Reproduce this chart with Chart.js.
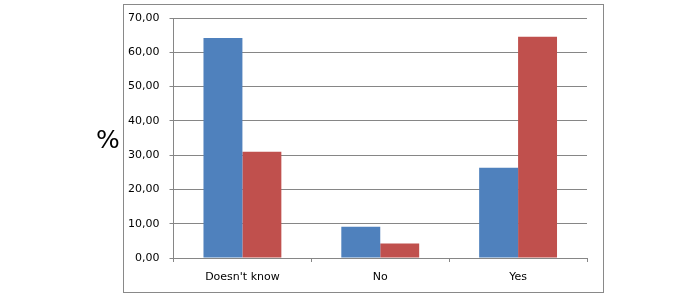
<!DOCTYPE html>
<html>
<head>
<meta charset="utf-8">
<script src="https://cdn.jsdelivr.net/npm/chart.js@4"></script>
<style>
  html, body { margin: 0; padding: 0; background: #fff; }
  #wrap { width: 700px; height: 298px; position: relative; }
</style>
</head>
<body>
<div id="wrap"><canvas id="chart" width="700" height="298"></canvas></div>
<script>
const categories = ["Doesn't know", 'No', 'Yes'];
const seriesA = [64.2, 9.1, 26.3];
const seriesB = [31.0, 4.2, 64.5];
const yTicks = [0, 10, 20, 30, 40, 50, 60, 70];

const axisColor = '#868686';
const font = { family: 'DejaVu Sans', size: 11 };

// frame around the chart + the "%" label outside the axis
const framePlugin = {
  id: 'frame',
  afterDraw(chart) {
    const ctx = chart.ctx;
    ctx.save();
    ctx.strokeStyle = '#898989';
    ctx.lineWidth = 1;
    ctx.strokeRect(123.5, 4.5, 480, 288);
    ctx.fillStyle = '#000';
    ctx.font = '25px "DejaVu Sans"';
    ctx.textAlign = 'center';
    ctx.textBaseline = 'middle';
    ctx.fillText('%', 108, 141);
    ctx.restore();
  }
};

new Chart(document.getElementById('chart').getContext('2d'), {
  type: 'bar',
  data: {
    labels: categories,
    datasets: [
      { label: 'A', data: seriesA, backgroundColor: '#4F81BD' },
      { label: 'B', data: seriesB, backgroundColor: '#C0504D' }
    ]
  },
  options: {
    responsive: false,
    animation: false,
    layout: { padding: { left: 0, right: 113, top: 18, bottom: 0 } },
    datasets: { bar: { categoryPercentage: 0.565, barPercentage: 1 } },
    plugins: { legend: { display: false }, tooltip: { enabled: false } },
    scales: {
      x: {
        afterFit: s => { s.height = 40; },
        grid: { drawOnChartArea: false, tickLength: 4, color: axisColor, offset: true },
        border: { color: axisColor },
        ticks: { color: '#000', font, padding: 9 }
      },
      y: {
        min: 0, max: 70,
        afterFit: s => { s.width = 173.5; },
        afterBuildTicks: s => { s.ticks = yTicks.map(v => ({ value: v })); },
        grid: { color: axisColor, tickLength: 4 },
        border: { color: axisColor },
        ticks: { color: '#000', font, padding: 10, callback: v => v.toFixed(2).replace('.', ',') }
      }
    }
  },
  plugins: [framePlugin]
});
</script>
</body>
</html>
